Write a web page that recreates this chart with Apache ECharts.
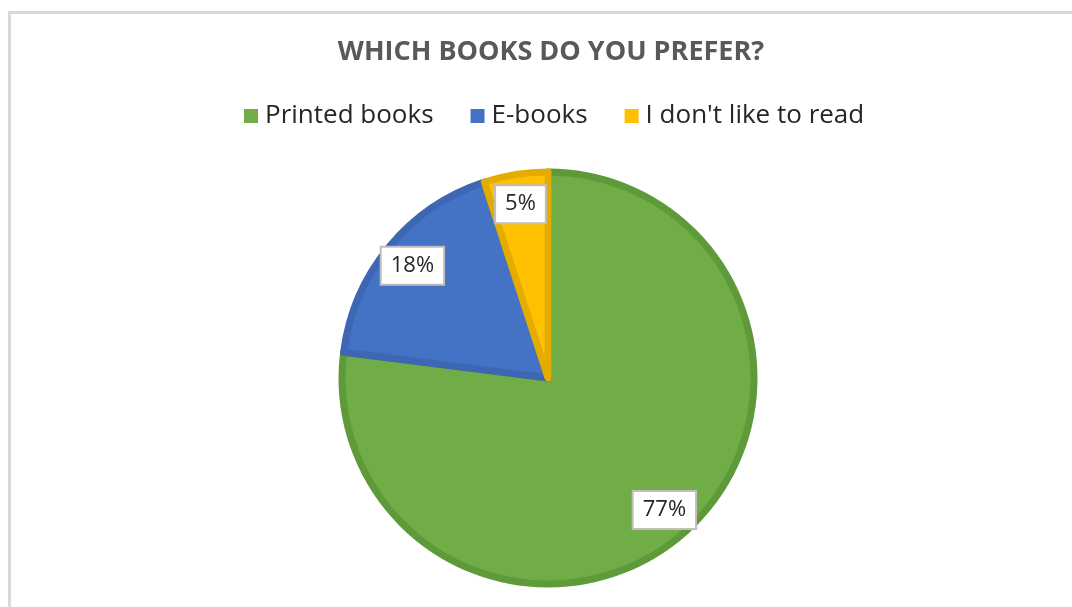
<!DOCTYPE html>
<html>
<head>
<meta charset="utf-8">
<script src="https://cdn.jsdelivr.net/npm/echarts@6/dist/echarts.min.js"></script>
<style>html,body{margin:0;padding:0;background:#fff;}#c{width:1072px;height:607px;}</style>
</head>
<body>
<div id="c"></div>
<script>
const categories = ["Printed books", "E-books", "I don't like to read"];
const values = [77, 18, 5];
const fills = ['#70AD47', '#4472C4', '#FFC000'];
const borders = ['#5F9A3A', '#3D66B3', '#E5AC00'];

const chart = echarts.init(document.getElementById('c'));
const mainData = categories.map((n, i) => ({
  name: n, value: values[i],
  itemStyle: { color: fills[i], borderColor: borders[i], borderWidth: 7 }
}));
const labelData = categories.map((n, i) => ({ name: n, value: values[i] }));

chart.setOption({
  animation: false,
  backgroundColor: '#fff',
  graphic: [{
    type: 'rect', shape: { x: 9.5, y: 12.5, width: 1100, height: 700 },
    style: { fill: 'none', stroke: '#D9D9D9', lineWidth: 3 }, silent: true
  }],
  title: {
    text: 'WHICH BOOKS DO YOU PREFER?',
    left: 546, top: 34, textAlign: 'center',
    textStyle: { fontFamily: 'Open Sans', fontWeight: 'bold', fontSize: 27, color: '#595959' }
  },
  legend: {
    data: categories,
    left: 239, top: 98,
    itemWidth: 14, itemHeight: 14, itemGap: 37,
    icon: 'rect',
    itemStyle: { borderWidth: 0 },
    textStyle: { fontFamily: 'Open Sans', fontSize: 26, color: '#262626', padding: [0, 0, 0, 2] }
  },
  series: [{
    type: 'pie',
    center: [548, 378],
    radius: [0, 206],
    startAngle: 90,
    clockwise: true,
    label: { show: false },
    labelLine: { show: false },
    emphasis: { disabled: true },
    data: mainData
  }, {
    type: 'pie',
    center: [548, 378],
    radius: [140, 206],
    startAngle: 90,
    clockwise: true,
    silent: true,
    itemStyle: { color: 'rgba(0,0,0,0)' },
    label: {
      show: true, position: 'inside',
      formatter: p => p.value + '%',
      fontFamily: 'Open Sans', fontSize: 22, color: '#262626',
      backgroundColor: '#fff', borderColor: '#BFBFBF', borderWidth: 2,
      padding: [8, 9, 6, 9]
    },
    labelLine: { show: false },
    emphasis: { disabled: true },
    data: labelData
  }]
});
</script>
</body>
</html>
